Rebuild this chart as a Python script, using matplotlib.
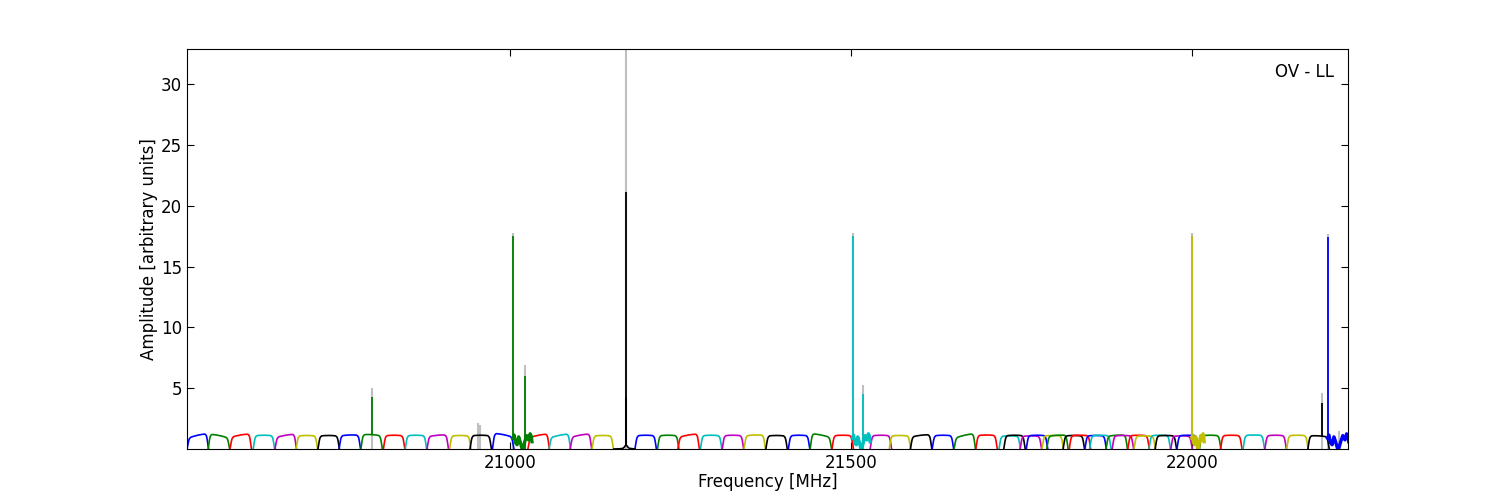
import numpy as np
import matplotlib.pyplot as plt

# band starts [MHz] and colours
band_start = [20526, 20557, 20589, 20623, 20655, 20686, 20718, 20749, 20781, 20814,
              20846, 20878, 20911, 20941, 20974, 21026, 21057, 21088, 21120, 21183,
              21216, 21246, 21279, 21311, 21343, 21375, 21408, 21440, 21472, 21528,
              21556, 21587, 21619, 21651, 21683,
              21717, 21724, 21748, 21757, 21780, 21787, 21811, 21820, 21843, 21850,
              21874, 21883, 21906, 21915, 21937, 21946, 21969, 21978,
              22011, 22042, 22075, 22107, 22139, 22170]
band_color = ['b', 'g', 'r', 'c', 'm', 'y', 'k', 'b', 'g', 'r',
              'c', 'm', 'y', 'k', 'b', 'r', 'c', 'm', 'y', 'b',
              'g', 'r', 'c', 'm', 'y', 'k', 'b', 'g', 'r', 'm',
              'y', 'k', 'b', 'g', 'r',
              'c', 'k', 'm', 'b', 'y', 'g', 'k', 'r', 'b', 'c',
              'g', 'm', 'r', 'y', 'c', 'k', 'm', 'b',
              'g', 'r', 'c', 'm', 'y', 'k']
band_level = [1.1, 1.08, 1.12, 1.1, 1.1, 1.08, 1.08, 1.12, 1.15, 1.1,
              1.1, 1.1, 1.08, 1.1, 1.15, 1.1, 1.1, 1.12, 1.08, 1.1,
              1.1, 1.12, 1.1, 1.1, 1.12, 1.08, 1.1, 1.12, 1.1, 1.1,
              1.08, 1.1, 1.1, 1.1, 1.12,
              1.05, 1.1, 1.05, 1.1, 1.08, 1.1, 1.08, 1.1, 1.08, 1.1,
              1.1, 1.08, 1.1, 1.05, 1.1, 1.08, 1.05, 1.1,
              1.1, 1.1, 1.12, 1.1, 1.1, 1.05]
band_tilt = [0.4, -0.35, 0.3, 0.0, 0.3, 0.0, 0.0, 0.05, -0.1, 0.0,
             0.0, 0.15, 0.0, 0.0, -0.35, 0.35, 0.35, 0.3, 0.0, 0.0,
             0.0, 0.3, 0.0, 0.0, 0.05, 0.0, 0.0, -0.35, 0.0, 0.0,
             0.0, 0.2, 0.0, 0.4, 0.0,
             0.0, 0.0, 0.0, 0.0, 0.0, 0.1, 0.0, 0.0, 0.0, 0.0,
             0.1, 0.0, 0.0, 0.0, 0.0, 0.0, 0.0, 0.0,
             0.0, 0.0, 0.0, 0.0, 0.0, -0.1]
band_width = 31.5

# bandpass shape (fraction of band, relative amplitude)
tpl_pos = [0, 0.03, 0.06, 0.09, 0.13, 0.18, 0.3, 0.5, 0.7, 0.82, 0.87, 0.91, 0.94, 0.97, 1.0]
tpl_val = [0.0, 0.3, 0.6, 0.82, 0.94, 1.0, 1.02, 1.03, 1.02, 1.0, 0.94, 0.82, 0.6, 0.3, 0.0]

# bands with strong lines and ripple
ripple_start = [21004, 21502, 22000, 22199]
ripple_width = [28, 26, 18, 31]
ripple_color = ['g', 'c', 'y', 'b']
wave_pos = [0, 0.06, 0.14, 0.22, 0.3, 0.38, 0.46, 0.5, 0.54, 0.62, 0.72, 0.82, 0.9, 0.96, 1.0]
wave_val = [0.9, 1.15, 0.5, 0.35, 1.0, 0.6, 0.1, 0.0, 0.1, 0.6, 1.1, 0.75, 1.25, 1.05, 0.6]

# almost empty black band around the big line
flat_start = 21152
flat_width = 31
flat_pos = [0, 0.3, 0.42, 0.48, 0.53, 0.58, 0.63, 0.68, 0.75, 1.0]
flat_val = [0.0, 0.02, 0.05, 0.12, 0.25, 0.3, 0.25, 0.12, 0.05, 0.0]

# spectral lines
spike_freq = [20797, 21004, 21021, 21170, 21170, 21503, 21518, 22000, 22191, 22199]
spike_base = [1.2, 1.0, 0.0, 0.3, 0.3, 1.0, 0.0, 1.0, 1.0, 1.0]
spike_amp = [4.3, 17.5, 6.0, 21.1, 4.3, 17.5, 4.5, 17.5, 3.8, 17.4]
spike_color = ['g', 'g', 'g', 'k', 'k', 'c', 'c', 'y', 'k', 'b']
grey_freq = [20797, 20953, 20956, 21004, 21021, 21170, 21170, 21503, 21518, 22000, 22191, 22199, 22215]
grey_amp = [5.0, 2.1, 2.0, 17.8, 6.9, 40.0, 27.4, 17.8, 5.3, 17.8, 4.6, 17.7, 1.5]

fig = plt.figure(figsize=(15, 5), dpi=100)
ax = fig.add_axes([0.1247, 0.102, 0.774, 0.8])

ax.vlines(grey_freq, 0, grey_amp, colors='0.75', lw=1.5, zorder=1)

for s, c, lev, t in zip(band_start, band_color, band_level, band_tilt):
    p = np.array(tpl_pos)
    ax.plot(s + p * band_width, np.array(tpl_val) * (lev + t * (p - 0.5)), color=c, lw=1.2, zorder=2)

for s, w, c in zip(ripple_start, ripple_width, ripple_color):
    ax.plot(s + np.array(wave_pos) * w, wave_val, color=c, lw=2.4, zorder=2)

ax.plot(flat_start + np.array(flat_pos) * flat_width, flat_val, color='k', lw=1.2, zorder=2)

for f, b, a, c in zip(spike_freq, spike_base, spike_amp, spike_color):
    ax.vlines(f, b, a, colors=c, lw=1.3, zorder=3)

ax.set_xlim(20526, 22229)
ax.set_ylim(0, 32.9)
ax.set_xticks([21000, 21500, 22000])
ax.set_yticks([5, 10, 15, 20, 25, 30])
ax.tick_params(direction='in', top=True, right=True, labelsize=12, length=5, pad=3.5)
ax.set_xlabel('Frequency [MHz]', fontsize=12, labelpad=1)
ax.set_ylabel('Amplitude [arbitrary units]', fontsize=12, labelpad=2)
ax.text(0.988, 0.965, 'OV - LL', transform=ax.transAxes, ha='right', va='top', fontsize=12)

plt.savefig('out.png')
